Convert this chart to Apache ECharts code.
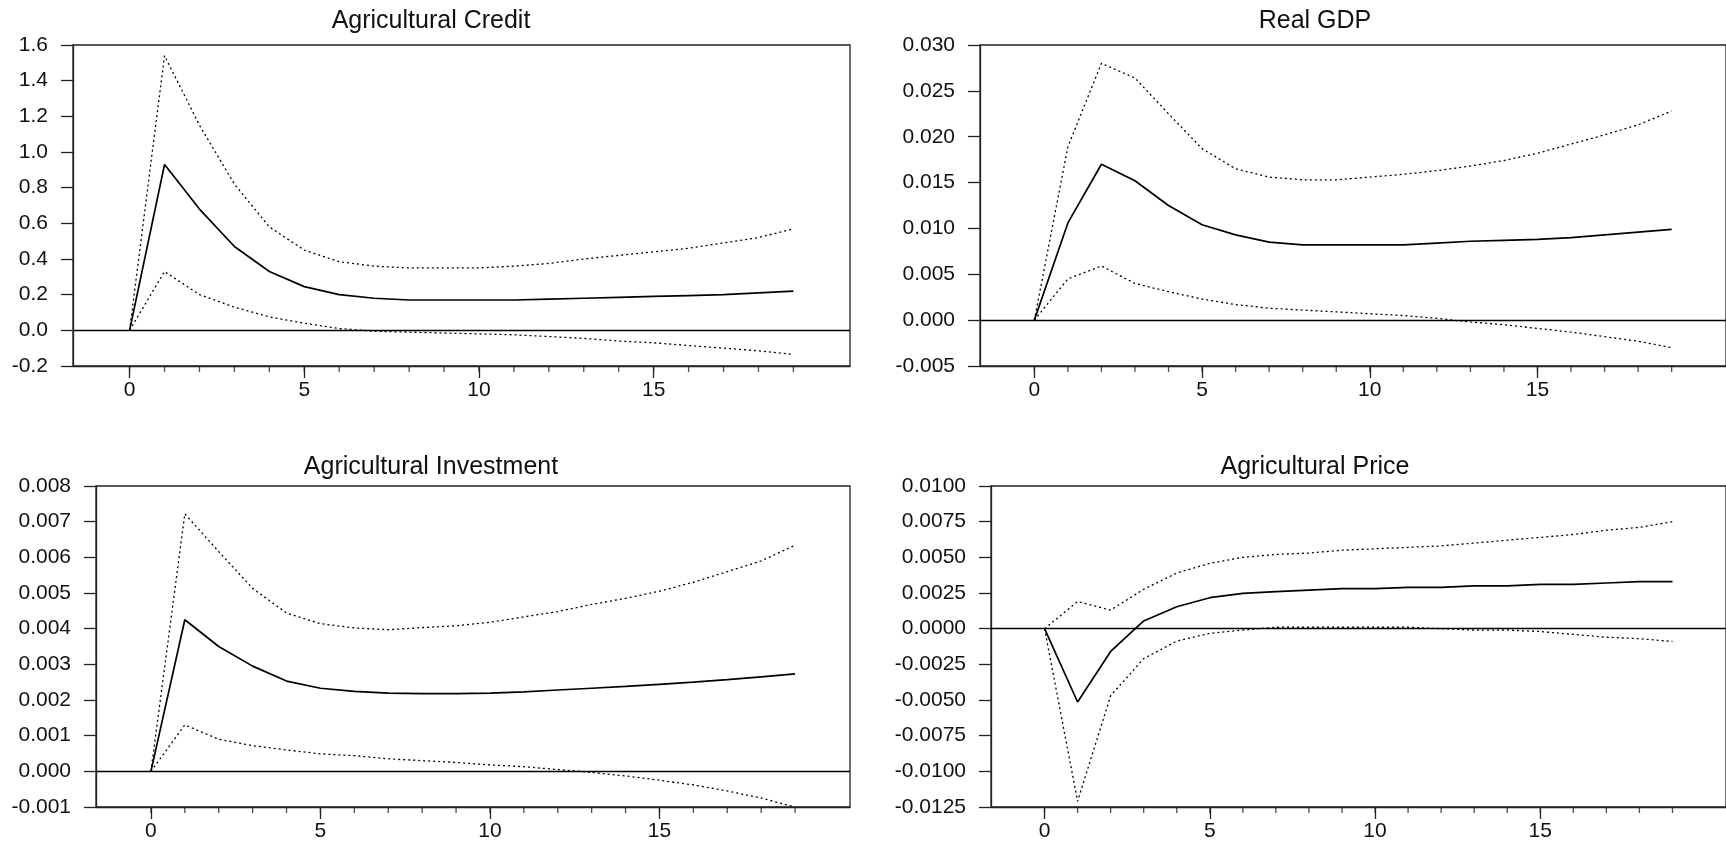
<!DOCTYPE html>
<html>
<head>
<meta charset="utf-8">
<script src="https://cdn.jsdelivr.net/npm/echarts@6/dist/echarts.min.js"></script>
<style>
html,body{margin:0;padding:0;background:#fff;}
#chart{width:1726px;height:844px;}
</style>
</head>
<body>
<div id="chart"></div>
<script>
// Periods
const periods = [0,1,2,3,4,5,6,7,8,9,10,11,12,13,14,15,16,17,18,19];
const xLabelTicks = [0,5,10,15];

// Panel titles
const titles = ["Agricultural Credit", "Real GDP", "Agricultural Investment", "Agricultural Price"];

// Agricultural Credit
const creditIRF   = [0,0.93,0.68,0.47,0.33,0.245,0.20,0.18,0.17,0.17,0.17,0.17,0.175,0.18,0.185,0.19,0.195,0.20,0.21,0.22];
const creditUpper = [0,1.54,1.15,0.82,0.58,0.45,0.385,0.36,0.35,0.35,0.35,0.36,0.375,0.40,0.42,0.44,0.46,0.49,0.52,0.57];
const creditLower = [0,0.33,0.20,0.13,0.075,0.04,0.01,-0.005,-0.01,-0.015,-0.02,-0.025,-0.035,-0.045,-0.06,-0.07,-0.085,-0.10,-0.115,-0.135];

// Real GDP
const gdpIRF   = [0,0.0106,0.0170,0.0152,0.0125,0.0104,0.0093,0.0085,0.0082,0.0082,0.0082,0.0082,0.0084,0.0086,0.0087,0.0088,0.0090,0.0093,0.0096,0.0099];
const gdpUpper = [0,0.0189,0.0280,0.0264,0.0225,0.0187,0.0165,0.0156,0.0153,0.0153,0.0156,0.0159,0.0163,0.0168,0.0174,0.0182,0.0192,0.0202,0.0213,0.0228];
const gdpLower = [0,0.0045,0.0059,0.0040,0.0031,0.0023,0.0017,0.0013,0.0011,0.0009,0.0007,0.0005,0.0002,-0.0002,-0.0005,-0.0009,-0.0013,-0.0018,-0.0023,-0.0030];

// Agricultural Investment
const invIRF   = [0,0.00425,0.0035,0.00295,0.00253,0.00233,0.00224,0.00219,0.00218,0.00218,0.00219,0.00223,0.00228,0.00233,0.00238,0.00244,0.00250,0.00257,0.00265,0.00273];
const invUpper = [0,0.00722,0.00616,0.00513,0.00444,0.00414,0.00402,0.00397,0.00403,0.00408,0.00418,0.00433,0.00448,0.00468,0.00485,0.00505,0.00530,0.00560,0.00590,0.00634];
const invLower = [0,0.0013,0.0009,0.00072,0.0006,0.00049,0.00044,0.00035,0.0003,0.00025,0.00018,0.00013,0.00005,-0.00003,-0.00013,-0.00025,-0.00038,-0.00055,-0.00075,-0.0010];

// Agricultural Price
const priceIRF   = [0,-0.00514,-0.0016,0.00054,0.00154,0.00217,0.00248,0.0026,0.0027,0.0028,0.0028,0.0029,0.0029,0.0030,0.0030,0.0031,0.0031,0.0032,0.0033,0.0033];
const priceUpper = [0,0.0019,0.0013,0.00276,0.0039,0.00458,0.0050,0.0052,0.0053,0.0055,0.0056,0.0057,0.0058,0.0060,0.0062,0.0064,0.0066,0.0069,0.0071,0.0075];
const priceLower = [0,-0.0121,-0.0047,-0.0021,-0.00087,-0.00033,-0.0001,0.0001,0.0001,0.0001,0.0001,0.0001,0.0,-0.0001,-0.0001,-0.0002,-0.0004,-0.0006,-0.0007,-0.0009];

// Y axis scales [min, max, interval, decimals]
const yCredit = [-0.2, 1.6, 0.2, 1];
const yGdp    = [-0.005, 0.030, 0.005, 3];
const yInv    = [-0.001, 0.008, 0.001, 3];
const yPrice  = [-0.0125, 0.0100, 0.0025, 4];

const panels = [
  {title: titles[0], irf: creditIRF, up: creditUpper, lo: creditLower, y: yCredit},
  {title: titles[1], irf: gdpIRF,    up: gdpUpper,    lo: gdpLower,    y: yGdp},
  {title: titles[2], irf: invIRF,    up: invUpper,    lo: invLower,    y: yInv},
  {title: titles[3], irf: priceIRF,  up: priceUpper,  lo: priceLower,  y: yPrice}
];

// Layout (pixels)
const layout = [
  {left: 73,  top: 45,  width: 777, titleX: 431,  titleTop: 9},
  {left: 980, top: 45,  width: 754, titleX: 1315, titleTop: 9},
  {left: 96,  top: 486, width: 754, titleX: 431,  titleTop: 455},
  {left: 991, top: 486, width: 743, titleX: 1315, titleTop: 455}
];
const plotH = 321;
const xMin = -1.62, xMax = 20.62;
const FONT = '"Liberation Sans", Arial, sans-serif';
const INK = '#111';

const pairs = arr => periods.map((t, i) => [t, arr[i]]);

const option = {
  animation: false,
  backgroundColor: '#fff',
  title: [], grid: [], xAxis: [], yAxis: [], series: []
};

panels.forEach((p, i) => {
  const L = layout[i];
  option.title.push({
    text: p.title, left: L.titleX, top: L.titleTop, textAlign: 'center', padding: 0,
    textStyle: {fontFamily: FONT, fontSize: 25, fontWeight: 'normal', color: INK}
  });
  option.grid.push({
    left: L.left, top: L.top, width: L.width, height: plotH,
    show: true, borderColor: '#222', borderWidth: 1.3, backgroundColor: 'transparent'
  });
  option.xAxis.push({
    type: 'value', gridIndex: i, min: xMin, max: xMax, position: 'bottom',
    axisLine: {show: true, onZero: false, lineStyle: {color: '#222', width: 1.3}},
    axisTick: {show: true, inside: false, length: 12, customValues: xLabelTicks, lineStyle: {color: '#222', width: 1.3}},
    axisLabel: {show: true, customValues: xLabelTicks, margin: 14, fontFamily: FONT, fontSize: 21, color: INK},
    splitLine: {show: false}
  });
  const dec = p.y[3];
  option.yAxis.push({
    type: 'value', gridIndex: i, min: p.y[0], max: p.y[1], interval: p.y[2],
    axisLine: {show: true, onZero: false, lineStyle: {color: '#222', width: 1.3}},
    axisTick: {show: true, inside: false, length: 12, lineStyle: {color: '#222', width: 1.3}},
    axisLabel: {margin: 25, fontFamily: FONT, fontSize: 21, color: INK,
      formatter: v => { let s = Number(v).toFixed(dec); if (/^-0\.0+$/.test(s)) s = s.slice(1); return s; }},
    splitLine: {show: false}
  });
  option.series.push({
    type: 'line', xAxisIndex: i, yAxisIndex: i, data: pairs(p.irf),
    symbol: 'none', lineStyle: {color: '#000', width: 1.7, type: 'solid'},
    markLine: {silent: true, symbol: 'none', label: {show: false},
      lineStyle: {color: '#000', width: 1.4, type: 'solid'}, data: [{yAxis: 0}]},
    z: 3
  });
  option.series.push({
    type: 'line', xAxisIndex: i, yAxisIndex: i, data: pairs(p.up),
    symbol: 'none', lineStyle: {color: '#000', width: 1.3, type: [2, 3]}
  });
  option.series.push({
    type: 'line', xAxisIndex: i, yAxisIndex: i, data: pairs(p.lo),
    symbol: 'none', lineStyle: {color: '#000', width: 1.3, type: [2, 3]}
  });
  // short minor ticks under the x axis at every period
  option.series.push({
    type: 'scatter', xAxisIndex: i, yAxisIndex: i, silent: true, clip: false,
    data: periods.map(t => [t, p.y[0]]),
    symbol: 'rect', symbolSize: [1.3, 6], symbolOffset: [0, 3],
    itemStyle: {color: '#222'}, z: 4
  });
});

const chart = echarts.init(document.getElementById('chart'), null, {renderer: 'canvas'});
chart.setOption(option);
</script>
</body>
</html>
